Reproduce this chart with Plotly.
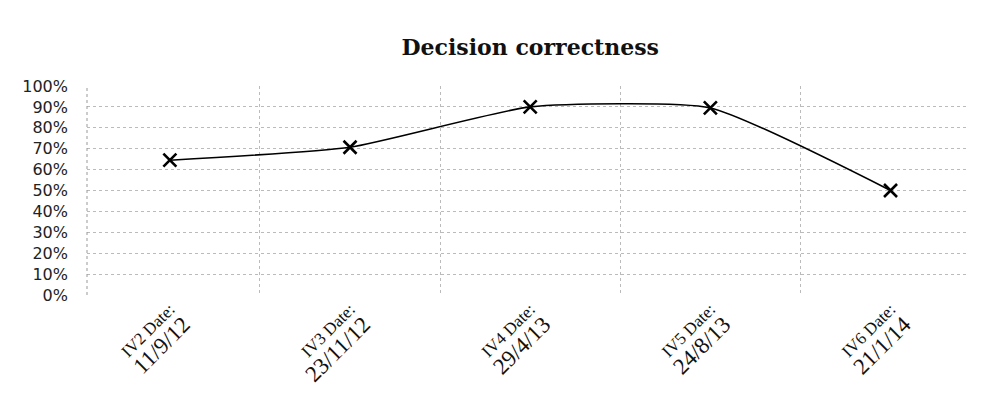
import plotly.graph_objects as go

iv_names = ["IV2 Date:", "IV3 Date:", "IV4 Date:", "IV5 Date:", "IV6 Date:"]
iv_dates = ["11/9/12", "23/11/12", "29/4/13", "24/8/13", "21/1/14"]
categories = [f"{n}<br><span style='font-size:23px'>{d}</span>" for n, d in zip(iv_names, iv_dates)]
correctness = [0.645, 0.707, 0.90, 0.895, 0.50]
y_ticks = [0, 0.1, 0.2, 0.3, 0.4, 0.5, 0.6, 0.7, 0.8, 0.9, 1.0]

fig = go.Figure()
fig.add_trace(go.Scatter(
    x=categories, y=correctness, mode="lines+markers",
    line=dict(color="black", width=1.6, shape="spline", smoothing=0.5),
    marker=dict(symbol="x-thin", size=13, line=dict(color="black", width=2.6), color="black"),
    showlegend=False,
))

fig.add_shape(type="line", xref="paper", yref="paper", x0=0, x1=0, y0=0, y1=1,
              line=dict(color="#999999", width=1, dash="dot"))

fig.update_layout(
    width=982, height=394,
    margin=dict(l=87, r=14, t=86, b=99),
    paper_bgcolor="white", plot_bgcolor="white",
    title=dict(text="<b>Decision correctness</b>", x=0.54, xanchor="center", y=0.88, yanchor="middle",
               font=dict(family="DejaVu Serif", size=22, color="#111")),
    xaxis=dict(
        type="category", tickson="boundaries", ticks="",
        range=[-0.46, 4.43], automargin=False,
        showgrid=True, gridcolor="#bbbbbb", griddash="dot", gridwidth=1,
        tickangle=-45, tickfont=dict(family="Liberation Serif", size=17, color="#111"),
        showline=False, zeroline=False, ticklabelstandoff=0,
    ),
    yaxis=dict(
        range=[0, 1.0], tickvals=y_ticks, tickformat=".0%", automargin=False,
        showgrid=True, gridcolor="#bbbbbb", griddash="dot", gridwidth=1,
        tickfont=dict(family="DejaVu Sans", size=16, color="#222"),
        showline=False, zeroline=False, ticks="", ticklen=0,
        ticklabelstandoff=18,
    ),
)
fig.write_html("out.html")
